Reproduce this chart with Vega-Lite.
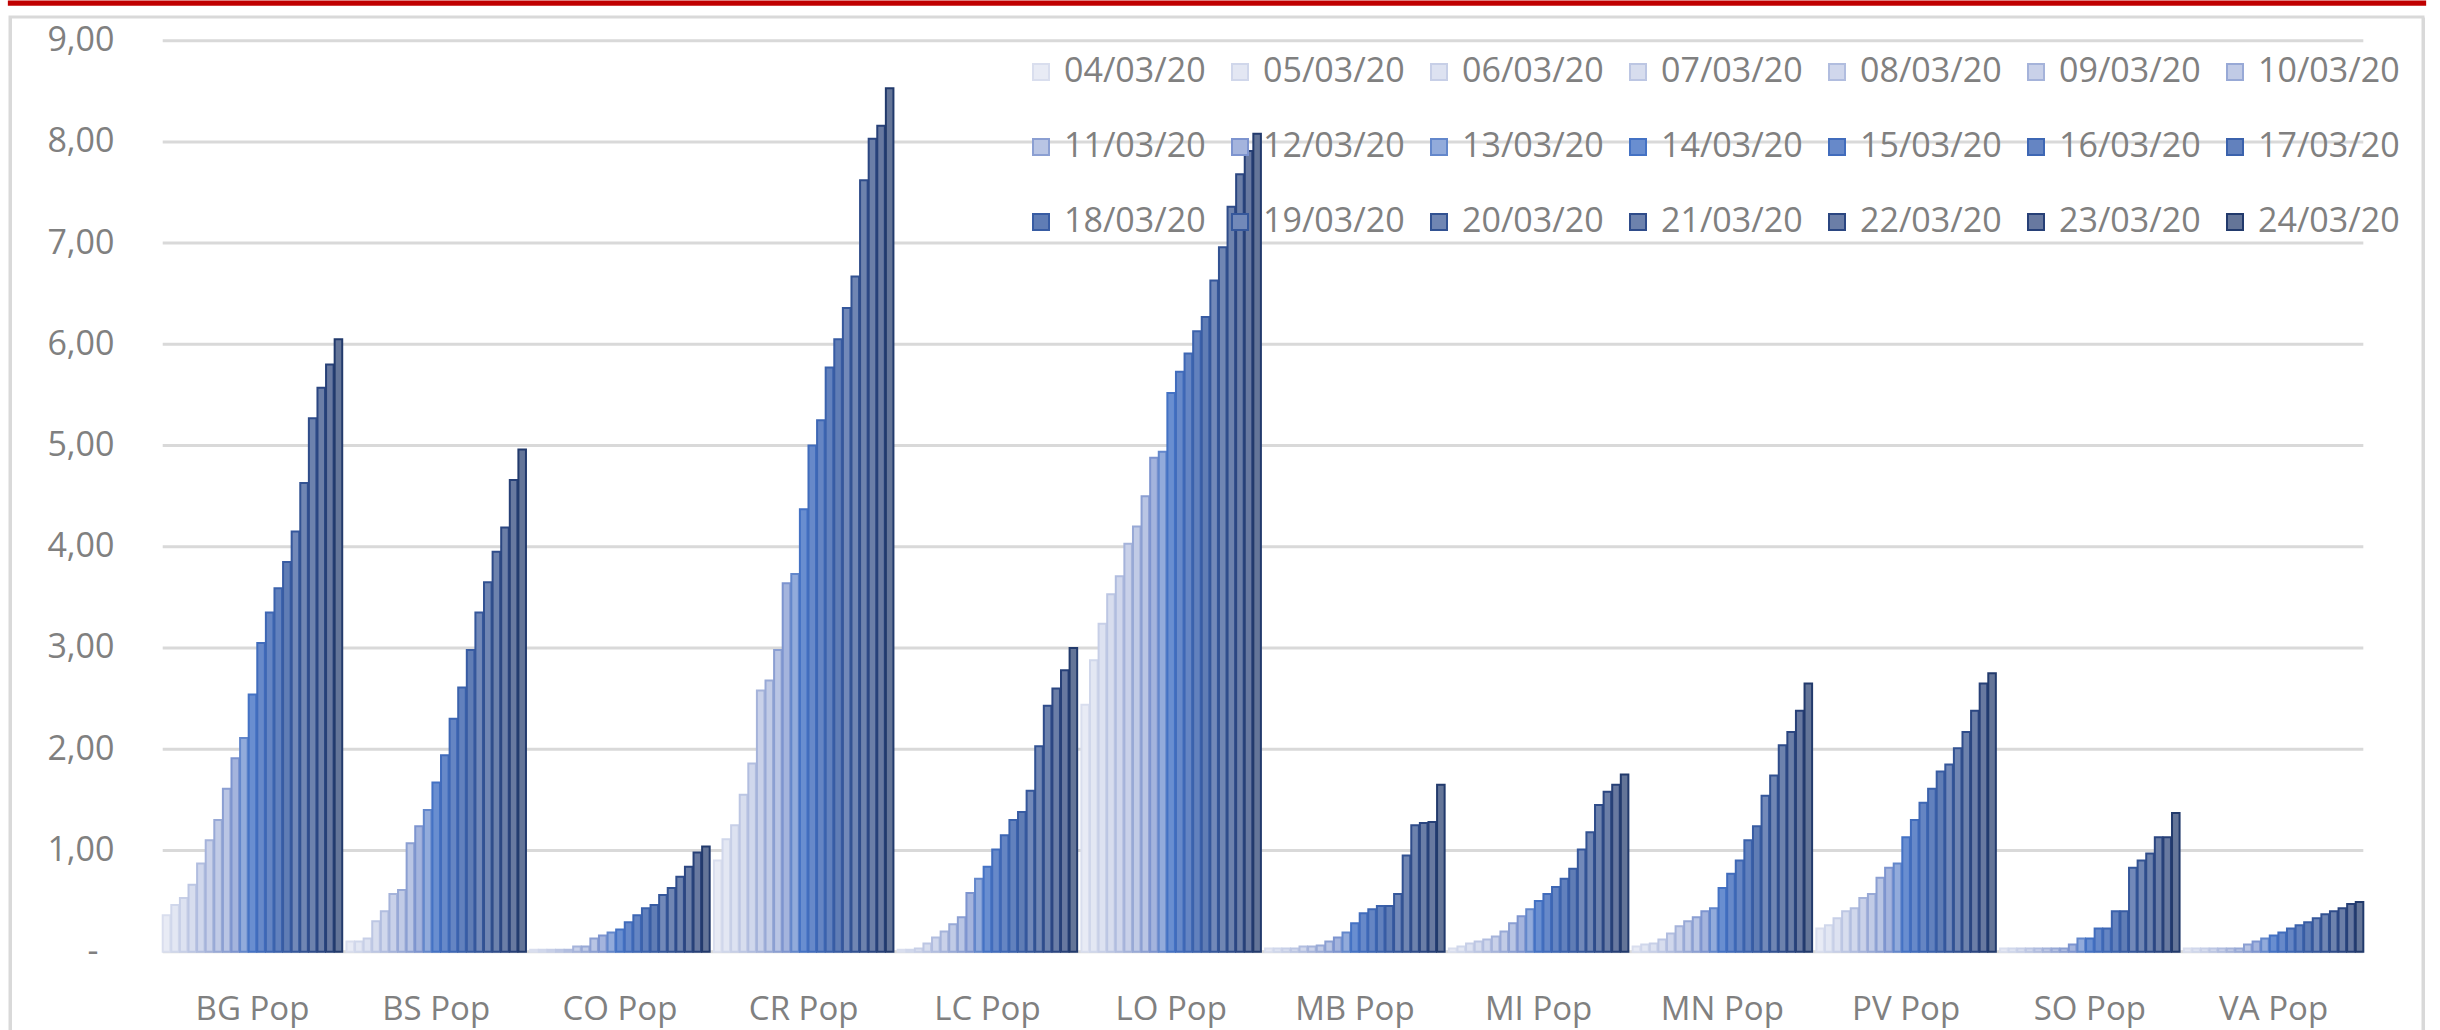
{
  "$schema": "https://vega.github.io/schema/vega-lite/v6.json",
  "width": 2413,
  "height": 1013,
  "autosize": {"type": "none"},
  "padding": {"left": 10, "top": 17, "right": 17, "bottom": 0},
  "background": "white",
  "config": {
    "font": "Open Sans",
    "view": {"stroke": "#d9d9d9", "strokeWidth": 3, "strokeDash": [3426, 2413, 1013]}
  },
  "resolve": {"axis": {"x": "independent", "y": "independent"}},
  "layer": [
    {
      "data": {"values": [{"g": 0}, {"g": 1}, {"g": 2}, {"g": 3}, {"g": 4}, {"g": 5}, {"g": 6}, {"g": 7}, {"g": 8}, {"g": 9}]},
      "mark": {"type": "rule", "color": "#d9d9d9", "strokeWidth": 3},
      "encoding": {
        "x": {"datum": "BG Pop", "type": "nominal", "bandPosition": 0,
              "axis": {"orient": "top", "offset": 14.35, "domain": true, "domainColor": "#c00000", "domainWidth": 5.3, "domainCap": "square", "labels": false, "ticks": false, "grid": false, "title": null}},
        "x2": {"datum": "VA Pop", "bandPosition": 1},
        "y": {"field": "g", "type": "quantitative",
              "axis": {"orient": "right", "domain": true, "domainColor": "#d9d9d9", "domainWidth": 3, "labels": false, "ticks": false, "grid": false, "title": null}}
      }
    },
    {
      "data": {"values": [
        {"r":"BG Pop","d":"04/03/20","v":0.36},{"r":"BG Pop","d":"05/03/20","v":0.46},{"r":"BG Pop","d":"06/03/20","v":0.53},{"r":"BG Pop","d":"07/03/20","v":0.66},{"r":"BG Pop","d":"08/03/20","v":0.87},{"r":"BG Pop","d":"09/03/20","v":1.10},{"r":"BG Pop","d":"10/03/20","v":1.30},{"r":"BG Pop","d":"11/03/20","v":1.61},{"r":"BG Pop","d":"12/03/20","v":1.91},{"r":"BG Pop","d":"13/03/20","v":2.11},{"r":"BG Pop","d":"14/03/20","v":2.54},{"r":"BG Pop","d":"15/03/20","v":3.05},{"r":"BG Pop","d":"16/03/20","v":3.35},{"r":"BG Pop","d":"17/03/20","v":3.59},{"r":"BG Pop","d":"18/03/20","v":3.85},{"r":"BG Pop","d":"19/03/20","v":4.15},{"r":"BG Pop","d":"20/03/20","v":4.63},{"r":"BG Pop","d":"21/03/20","v":5.27},{"r":"BG Pop","d":"22/03/20","v":5.57},{"r":"BG Pop","d":"23/03/20","v":5.80},{"r":"BG Pop","d":"24/03/20","v":6.05},
        {"r":"BS Pop","d":"04/03/20","v":0.10},{"r":"BS Pop","d":"05/03/20","v":0.10},{"r":"BS Pop","d":"06/03/20","v":0.13},{"r":"BS Pop","d":"07/03/20","v":0.30},{"r":"BS Pop","d":"08/03/20","v":0.40},{"r":"BS Pop","d":"09/03/20","v":0.57},{"r":"BS Pop","d":"10/03/20","v":0.61},{"r":"BS Pop","d":"11/03/20","v":1.07},{"r":"BS Pop","d":"12/03/20","v":1.24},{"r":"BS Pop","d":"13/03/20","v":1.40},{"r":"BS Pop","d":"14/03/20","v":1.67},{"r":"BS Pop","d":"15/03/20","v":1.94},{"r":"BS Pop","d":"16/03/20","v":2.30},{"r":"BS Pop","d":"17/03/20","v":2.61},{"r":"BS Pop","d":"18/03/20","v":2.98},{"r":"BS Pop","d":"19/03/20","v":3.35},{"r":"BS Pop","d":"20/03/20","v":3.65},{"r":"BS Pop","d":"21/03/20","v":3.95},{"r":"BS Pop","d":"22/03/20","v":4.19},{"r":"BS Pop","d":"23/03/20","v":4.66},{"r":"BS Pop","d":"24/03/20","v":4.96},
        {"r":"CO Pop","d":"04/03/20","v":0.02},{"r":"CO Pop","d":"05/03/20","v":0.02},{"r":"CO Pop","d":"06/03/20","v":0.02},{"r":"CO Pop","d":"07/03/20","v":0.02},{"r":"CO Pop","d":"08/03/20","v":0.02},{"r":"CO Pop","d":"09/03/20","v":0.05},{"r":"CO Pop","d":"10/03/20","v":0.05},{"r":"CO Pop","d":"11/03/20","v":0.13},{"r":"CO Pop","d":"12/03/20","v":0.16},{"r":"CO Pop","d":"13/03/20","v":0.19},{"r":"CO Pop","d":"14/03/20","v":0.22},{"r":"CO Pop","d":"15/03/20","v":0.29},{"r":"CO Pop","d":"16/03/20","v":0.36},{"r":"CO Pop","d":"17/03/20","v":0.43},{"r":"CO Pop","d":"18/03/20","v":0.46},{"r":"CO Pop","d":"19/03/20","v":0.56},{"r":"CO Pop","d":"20/03/20","v":0.63},{"r":"CO Pop","d":"21/03/20","v":0.74},{"r":"CO Pop","d":"22/03/20","v":0.84},{"r":"CO Pop","d":"23/03/20","v":0.98},{"r":"CO Pop","d":"24/03/20","v":1.04},
        {"r":"CR Pop","d":"04/03/20","v":0.90},{"r":"CR Pop","d":"05/03/20","v":1.11},{"r":"CR Pop","d":"06/03/20","v":1.25},{"r":"CR Pop","d":"07/03/20","v":1.55},{"r":"CR Pop","d":"08/03/20","v":1.86},{"r":"CR Pop","d":"09/03/20","v":2.58},{"r":"CR Pop","d":"10/03/20","v":2.68},{"r":"CR Pop","d":"11/03/20","v":2.98},{"r":"CR Pop","d":"12/03/20","v":3.64},{"r":"CR Pop","d":"13/03/20","v":3.73},{"r":"CR Pop","d":"14/03/20","v":4.37},{"r":"CR Pop","d":"15/03/20","v":5.00},{"r":"CR Pop","d":"16/03/20","v":5.25},{"r":"CR Pop","d":"17/03/20","v":5.77},{"r":"CR Pop","d":"18/03/20","v":6.05},{"r":"CR Pop","d":"19/03/20","v":6.36},{"r":"CR Pop","d":"20/03/20","v":6.67},{"r":"CR Pop","d":"21/03/20","v":7.62},{"r":"CR Pop","d":"22/03/20","v":8.03},{"r":"CR Pop","d":"23/03/20","v":8.16},{"r":"CR Pop","d":"24/03/20","v":8.53},
        {"r":"LC Pop","d":"04/03/20","v":0.02},{"r":"LC Pop","d":"05/03/20","v":0.02},{"r":"LC Pop","d":"06/03/20","v":0.03},{"r":"LC Pop","d":"07/03/20","v":0.08},{"r":"LC Pop","d":"08/03/20","v":0.14},{"r":"LC Pop","d":"09/03/20","v":0.20},{"r":"LC Pop","d":"10/03/20","v":0.27},{"r":"LC Pop","d":"11/03/20","v":0.34},{"r":"LC Pop","d":"12/03/20","v":0.58},{"r":"LC Pop","d":"13/03/20","v":0.72},{"r":"LC Pop","d":"14/03/20","v":0.84},{"r":"LC Pop","d":"15/03/20","v":1.01},{"r":"LC Pop","d":"16/03/20","v":1.15},{"r":"LC Pop","d":"17/03/20","v":1.30},{"r":"LC Pop","d":"18/03/20","v":1.38},{"r":"LC Pop","d":"19/03/20","v":1.59},{"r":"LC Pop","d":"20/03/20","v":2.03},{"r":"LC Pop","d":"21/03/20","v":2.43},{"r":"LC Pop","d":"22/03/20","v":2.60},{"r":"LC Pop","d":"23/03/20","v":2.78},{"r":"LC Pop","d":"24/03/20","v":3.00},
        {"r":"LO Pop","d":"04/03/20","v":2.44},{"r":"LO Pop","d":"05/03/20","v":2.88},{"r":"LO Pop","d":"06/03/20","v":3.24},{"r":"LO Pop","d":"07/03/20","v":3.53},{"r":"LO Pop","d":"08/03/20","v":3.71},{"r":"LO Pop","d":"09/03/20","v":4.03},{"r":"LO Pop","d":"10/03/20","v":4.20},{"r":"LO Pop","d":"11/03/20","v":4.50},{"r":"LO Pop","d":"12/03/20","v":4.88},{"r":"LO Pop","d":"13/03/20","v":4.94},{"r":"LO Pop","d":"14/03/20","v":5.52},{"r":"LO Pop","d":"15/03/20","v":5.73},{"r":"LO Pop","d":"16/03/20","v":5.91},{"r":"LO Pop","d":"17/03/20","v":6.13},{"r":"LO Pop","d":"18/03/20","v":6.27},{"r":"LO Pop","d":"19/03/20","v":6.63},{"r":"LO Pop","d":"20/03/20","v":6.96},{"r":"LO Pop","d":"21/03/20","v":7.36},{"r":"LO Pop","d":"22/03/20","v":7.68},{"r":"LO Pop","d":"23/03/20","v":7.91},{"r":"LO Pop","d":"24/03/20","v":8.08},
        {"r":"MB Pop","d":"04/03/20","v":0.03},{"r":"MB Pop","d":"05/03/20","v":0.03},{"r":"MB Pop","d":"06/03/20","v":0.03},{"r":"MB Pop","d":"07/03/20","v":0.03},{"r":"MB Pop","d":"08/03/20","v":0.05},{"r":"MB Pop","d":"09/03/20","v":0.05},{"r":"MB Pop","d":"10/03/20","v":0.06},{"r":"MB Pop","d":"11/03/20","v":0.10},{"r":"MB Pop","d":"12/03/20","v":0.14},{"r":"MB Pop","d":"13/03/20","v":0.19},{"r":"MB Pop","d":"14/03/20","v":0.28},{"r":"MB Pop","d":"15/03/20","v":0.38},{"r":"MB Pop","d":"16/03/20","v":0.42},{"r":"MB Pop","d":"17/03/20","v":0.45},{"r":"MB Pop","d":"18/03/20","v":0.45},{"r":"MB Pop","d":"19/03/20","v":0.57},{"r":"MB Pop","d":"20/03/20","v":0.95},{"r":"MB Pop","d":"21/03/20","v":1.25},{"r":"MB Pop","d":"22/03/20","v":1.27},{"r":"MB Pop","d":"23/03/20","v":1.28},{"r":"MB Pop","d":"24/03/20","v":1.65},
        {"r":"MI Pop","d":"04/03/20","v":0.03},{"r":"MI Pop","d":"05/03/20","v":0.05},{"r":"MI Pop","d":"06/03/20","v":0.08},{"r":"MI Pop","d":"07/03/20","v":0.10},{"r":"MI Pop","d":"08/03/20","v":0.12},{"r":"MI Pop","d":"09/03/20","v":0.15},{"r":"MI Pop","d":"10/03/20","v":0.20},{"r":"MI Pop","d":"11/03/20","v":0.28},{"r":"MI Pop","d":"12/03/20","v":0.35},{"r":"MI Pop","d":"13/03/20","v":0.42},{"r":"MI Pop","d":"14/03/20","v":0.50},{"r":"MI Pop","d":"15/03/20","v":0.57},{"r":"MI Pop","d":"16/03/20","v":0.64},{"r":"MI Pop","d":"17/03/20","v":0.72},{"r":"MI Pop","d":"18/03/20","v":0.82},{"r":"MI Pop","d":"19/03/20","v":1.01},{"r":"MI Pop","d":"20/03/20","v":1.18},{"r":"MI Pop","d":"21/03/20","v":1.45},{"r":"MI Pop","d":"22/03/20","v":1.58},{"r":"MI Pop","d":"23/03/20","v":1.65},{"r":"MI Pop","d":"24/03/20","v":1.75},
        {"r":"MN Pop","d":"04/03/20","v":0.05},{"r":"MN Pop","d":"05/03/20","v":0.07},{"r":"MN Pop","d":"06/03/20","v":0.08},{"r":"MN Pop","d":"07/03/20","v":0.12},{"r":"MN Pop","d":"08/03/20","v":0.18},{"r":"MN Pop","d":"09/03/20","v":0.25},{"r":"MN Pop","d":"10/03/20","v":0.30},{"r":"MN Pop","d":"11/03/20","v":0.34},{"r":"MN Pop","d":"12/03/20","v":0.40},{"r":"MN Pop","d":"13/03/20","v":0.43},{"r":"MN Pop","d":"14/03/20","v":0.63},{"r":"MN Pop","d":"15/03/20","v":0.77},{"r":"MN Pop","d":"16/03/20","v":0.90},{"r":"MN Pop","d":"17/03/20","v":1.10},{"r":"MN Pop","d":"18/03/20","v":1.24},{"r":"MN Pop","d":"19/03/20","v":1.54},{"r":"MN Pop","d":"20/03/20","v":1.74},{"r":"MN Pop","d":"21/03/20","v":2.04},{"r":"MN Pop","d":"22/03/20","v":2.17},{"r":"MN Pop","d":"23/03/20","v":2.38},{"r":"MN Pop","d":"24/03/20","v":2.65},
        {"r":"PV Pop","d":"04/03/20","v":0.23},{"r":"PV Pop","d":"05/03/20","v":0.26},{"r":"PV Pop","d":"06/03/20","v":0.33},{"r":"PV Pop","d":"07/03/20","v":0.40},{"r":"PV Pop","d":"08/03/20","v":0.43},{"r":"PV Pop","d":"09/03/20","v":0.53},{"r":"PV Pop","d":"10/03/20","v":0.57},{"r":"PV Pop","d":"11/03/20","v":0.73},{"r":"PV Pop","d":"12/03/20","v":0.83},{"r":"PV Pop","d":"13/03/20","v":0.87},{"r":"PV Pop","d":"14/03/20","v":1.13},{"r":"PV Pop","d":"15/03/20","v":1.30},{"r":"PV Pop","d":"16/03/20","v":1.47},{"r":"PV Pop","d":"17/03/20","v":1.61},{"r":"PV Pop","d":"18/03/20","v":1.78},{"r":"PV Pop","d":"19/03/20","v":1.85},{"r":"PV Pop","d":"20/03/20","v":2.01},{"r":"PV Pop","d":"21/03/20","v":2.17},{"r":"PV Pop","d":"22/03/20","v":2.38},{"r":"PV Pop","d":"23/03/20","v":2.65},{"r":"PV Pop","d":"24/03/20","v":2.75},
        {"r":"SO Pop","d":"04/03/20","v":0.03},{"r":"SO Pop","d":"05/03/20","v":0.03},{"r":"SO Pop","d":"06/03/20","v":0.03},{"r":"SO Pop","d":"07/03/20","v":0.03},{"r":"SO Pop","d":"08/03/20","v":0.03},{"r":"SO Pop","d":"09/03/20","v":0.03},{"r":"SO Pop","d":"10/03/20","v":0.03},{"r":"SO Pop","d":"11/03/20","v":0.03},{"r":"SO Pop","d":"12/03/20","v":0.07},{"r":"SO Pop","d":"13/03/20","v":0.13},{"r":"SO Pop","d":"14/03/20","v":0.13},{"r":"SO Pop","d":"15/03/20","v":0.23},{"r":"SO Pop","d":"16/03/20","v":0.23},{"r":"SO Pop","d":"17/03/20","v":0.40},{"r":"SO Pop","d":"18/03/20","v":0.40},{"r":"SO Pop","d":"19/03/20","v":0.83},{"r":"SO Pop","d":"20/03/20","v":0.90},{"r":"SO Pop","d":"21/03/20","v":0.97},{"r":"SO Pop","d":"22/03/20","v":1.13},{"r":"SO Pop","d":"23/03/20","v":1.13},{"r":"SO Pop","d":"24/03/20","v":1.37},
        {"r":"VA Pop","d":"04/03/20","v":0.03},{"r":"VA Pop","d":"05/03/20","v":0.03},{"r":"VA Pop","d":"06/03/20","v":0.03},{"r":"VA Pop","d":"07/03/20","v":0.03},{"r":"VA Pop","d":"08/03/20","v":0.03},{"r":"VA Pop","d":"09/03/20","v":0.03},{"r":"VA Pop","d":"10/03/20","v":0.03},{"r":"VA Pop","d":"11/03/20","v":0.07},{"r":"VA Pop","d":"12/03/20","v":0.10},{"r":"VA Pop","d":"13/03/20","v":0.13},{"r":"VA Pop","d":"14/03/20","v":0.16},{"r":"VA Pop","d":"15/03/20","v":0.19},{"r":"VA Pop","d":"16/03/20","v":0.23},{"r":"VA Pop","d":"17/03/20","v":0.26},{"r":"VA Pop","d":"18/03/20","v":0.29},{"r":"VA Pop","d":"19/03/20","v":0.33},{"r":"VA Pop","d":"20/03/20","v":0.37},{"r":"VA Pop","d":"21/03/20","v":0.40},{"r":"VA Pop","d":"22/03/20","v":0.43},{"r":"VA Pop","d":"23/03/20","v":0.47},{"r":"VA Pop","d":"24/03/20","v":0.49}
      ]},
      "mark": {"type": "bar", "strokeWidth": 2},
      "encoding": {
        "x": {"field": "r", "type": "nominal",
              "scale": {"paddingInner": 0.023, "paddingOuter": 0.578, "align": 0.719},
              "axis": {"orient": "bottom", "offset": -78, "domain": false, "ticks": false, "grid": false, "title": null, "labelAngle": 0, "labelPadding": 67, "labelBaseline": "alphabetic", "labelFont": "Open Sans", "labelFontSize": 33, "labelColor": "#808080"}},
        "xOffset": {"field": "d", "type": "nominal", "scale": {"paddingInner": 0.12}},
        "y": {"field": "v", "type": "quantitative",
              "scale": {"domain": [-0.774, 9.234], "nice": false, "zero": false},
              "axis": {"orient": "left", "values": [0, 1, 2, 3, 4, 5, 6, 7, 8, 9], "labelExpr": "datum.value == 0 ? '-' : replace(format(datum.value, '.2f'), '.', ',')", "domain": true, "domainColor": "#d9d9d9", "domainWidth": 3, "ticks": false, "grid": false, "title": null,
                       "labelPadding": {"condition": {"test": "datum.value == 0", "value": -88}, "value": -104},
                       "labelAlign": "right", "labelFont": "Open Sans", "labelFontSize": 34, "labelColor": "#808080"}},
        "y2": {"datum": 0},
        "fill": {"field": "d", "type": "nominal",
                 "scale": {"range": ["#e8ebf5","#e3e7f3","#dde2f1","#d7ddee","#d0d7ec","#c9d1e9","#c1cbe6","#b9c5e4","#a4b4dd","#92abdb","#698ed0","#6789c9","#6585c3","#6281bd","#607db5","#7289b9","#7086b3","#6d82ad","#6b7ea7","#6879a0","#647598"]},
                 "legend": {"title": null, "orient": "none", "legendX": 1014, "legendY": 38, "columns": 7, "direction": "horizontal", "symbolType": "square", "symbolSize": 256, "symbolStrokeWidth": 2, "labelFont": "Open Sans", "labelFontSize": 34, "labelColor": "#808080", "labelOffset": 6, "labelLimit": 400, "columnPadding": 17, "rowPadding": 41, "padding": 0}},
        "stroke": {"field": "d", "type": "nominal",
                   "scale": {"range": ["#d9deee","#d0d7eb","#c7cfe7","#bcc6e3","#b1bddf","#a5b3da","#98a9d6","#8b9fd2","#7d94cf","#6387cb","#4472c4","#416cbc","#3e67b4","#3b62ac","#385ca3","#35579b","#325292","#2f4c8a","#2b4681","#274077","#223a6c"]},
                   "legend": {"title": null, "orient": "none", "legendX": 1014, "legendY": 38, "columns": 7, "direction": "horizontal", "symbolType": "square", "symbolSize": 256, "symbolStrokeWidth": 2, "labelFont": "Open Sans", "labelFontSize": 34, "labelColor": "#808080", "labelOffset": 6, "labelLimit": 400, "columnPadding": 17, "rowPadding": 41, "padding": 0}}
      }
    }
  ]
}
